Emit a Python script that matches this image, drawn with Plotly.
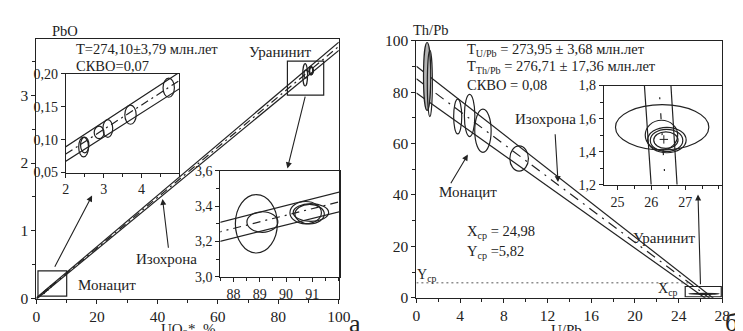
import plotly.graph_objects as go

W, H = 743, 331
FONT = "Liberation Serif, DejaVu Serif, serif"
INK = "#222222"

# ---------------- panel а : PbO vs UO2* ----------------
iso_a_x = [0, 100]
iso_a_mid = [0.004, 3.72]
iso_a_up = [0.014, 3.78]
iso_a_lo = [-0.006, 3.66]

mon_a_x = [2.47, 2.50, 2.88, 3.11, 3.71, 4.72]
mon_a_y = [0.089, 0.092, 0.111, 0.117, 0.138, 0.179]
mon_a_sx = [0.13, 0.11, 0.13, 0.13, 0.15, 0.15]
mon_a_sy = [0.015, 0.012, 0.0095, 0.0135, 0.0145, 0.0145]

ura_a_x = [88.87, 89.10, 90.75, 90.95, 90.90]
ura_a_y = [3.30, 3.31, 3.363, 3.364, 3.355]
ura_a_sx = [0.80, 0.59, 0.60, 0.675, 0.56]
ura_a_sy = [0.165, 0.058, 0.063, 0.050, 0.055]

# ---------------- panel б : Th/Pb vs U/Pb ----------------
iso_b_x = [0, 27.2]
iso_b_mid = [85.2, -1.3]
iso_b_up = [90.1, -0.26]
iso_b_lo = [79.7, -2.44]

mon_b_x = [0.98, 1.23, 3.78, 4.87, 6.09, 9.40]
mon_b_y = [86.1, 83.4, 70.5, 70.9, 65.0, 54.2]
mon_b_sx = [0.33, 0.23, 0.37, 0.48, 0.75, 0.85]
mon_b_sy = [13.2, 12.9, 6.75, 8.2, 8.4, 4.9]
mon_b_fill = [True, False, False, False, False, False]

ura_b_x = [26.32, 26.30, 26.46, 26.45, 26.43]
ura_b_y = [1.548, 1.50, 1.47, 1.468, 1.47]
ura_b_sx = [1.38, 0.48, 0.57, 0.48, 0.36]
ura_b_sy = [0.137, 0.090, 0.077, 0.067, 0.050]

x_cp, y_cp = 24.98, 5.82
centroid_inset = (26.37, 1.474)

ticks_a_inset1 = [2, 3, 4]
ticks_a_inset2 = [88, 89, 90, 91]
ticks_b_inset = [25, 26, 27]


def dom_x(a, b):
    return [a / W, b / W]


def dom_y(top, bottom):
    return [1 - bottom / H, 1 - top / H]


def px(xp, yp):
    return xp / W, 1 - yp / H


fig = go.Figure()


def add_lines(x, mid, up, lo, xa, ya, dash):
    for yy, d in ((up, "solid"), (lo, "solid"), (mid, dash)):
        fig.add_trace(go.Scatter(x=x, y=yy, mode="lines", xaxis=xa, yaxis=ya,
                                 line=dict(color=INK, width=1.2, dash=d),
                                 showlegend=False, hoverinfo="skip"))


add_lines(iso_a_x, iso_a_mid, iso_a_up, iso_a_lo, "x", "y", "8px,4px,2px,4px")
add_lines(iso_a_x, iso_a_mid, iso_a_up, iso_a_lo, "x2", "y2", "8px,4px,2px,4px")
add_lines(iso_a_x, iso_a_mid, iso_a_up, iso_a_lo, "x3", "y3", "8px,5px,2px,5px")
add_lines(iso_b_x, iso_b_mid, iso_b_up, iso_b_lo, "x4", "y4", "10px,6px,2px,6px")
add_lines(iso_b_x, iso_b_mid, iso_b_up, iso_b_lo, "x5", "y5", "6px,14px,2px,14px")

# Y_cp dotted line
fig.add_trace(go.Scatter(x=[0, x_cp], y=[y_cp, y_cp], mode="lines", xaxis="x4", yaxis="y4",
                         line=dict(color="#555", width=1, dash="2px,3px"),
                         showlegend=False, hoverinfo="skip"))
# centroid cross in inset
fig.add_trace(go.Scatter(x=[centroid_inset[0]], y=[centroid_inset[1]], mode="markers",
                         xaxis="x5", yaxis="y5",
                         marker=dict(symbol="cross-thin", size=6, line=dict(color=INK, width=1)),
                         showlegend=False, hoverinfo="skip"))

shapes = []


def add_ellipses(cx, cy, sx, sy, xr, yr, fills=None):
    for i in range(len(cx)):
        filled = fills[i] if fills else False
        shapes.append(dict(type="circle", xref=xr, yref=yr,
                           x0=cx[i] - sx[i], x1=cx[i] + sx[i],
                           y0=cy[i] - sy[i], y1=cy[i] + sy[i],
                           line=dict(color=INK, width=1.2),
                           fillcolor="#b4b4b4" if filled else "rgba(0,0,0,0)"))


add_ellipses(mon_a_x, mon_a_y, mon_a_sx, mon_a_sy, "x", "y")
add_ellipses(mon_a_x, mon_a_y, mon_a_sx, mon_a_sy, "x2", "y2")
add_ellipses(ura_a_x, ura_a_y, ura_a_sx, ura_a_sy, "x", "y")
add_ellipses(ura_a_x, ura_a_y, ura_a_sx, ura_a_sy, "x3", "y3")
add_ellipses(mon_b_x, mon_b_y, mon_b_sx, mon_b_sy, "x4", "y4", mon_b_fill)
add_ellipses(ura_b_x, ura_b_y, ura_b_sx, ura_b_sy, "x4", "y4")
add_ellipses(ura_b_x, ura_b_y, ura_b_sx, ura_b_sy, "x5", "y5")

# zoom boxes
for (x0, x1, y0, y1, xr, yr) in [(0.5, 10, 0.04, 0.41, "x", "y"),
                                  (83, 95, 3.0, 3.5, "x", "y"),
                                  (24.6, 27.9, 0.4, 4.4, "x4", "y4")]:
    shapes.append(dict(type="rect", xref=xr, yref=yr, x0=x0, x1=x1, y0=y0, y1=y1,
                       line=dict(color=INK, width=1.2)))

anns = []


def text(xp, yp, s, size=15, xanchor="center"):
    x, y = px(xp, yp)
    anns.append(dict(x=x, y=y, xref="paper", yref="paper", text=s, showarrow=False,
                     xanchor=xanchor, yanchor="middle",
                     font=dict(family=FONT, size=size, color=INK)))


def arrow(xr, yr, tail, head):
    anns.append(dict(x=head[0], y=head[1], ax=tail[0], ay=tail[1], xref=xr, yref=yr,
                     axref=xr, ayref=yr, text="", showarrow=True, arrowhead=2,
                     arrowsize=1.1, arrowwidth=1.1, arrowcolor=INK, standoff=0))


# panel а texts
text(54, 15, "PbO", 14.5)
text(63, 34, "T=274,10±3,79 млн.лет", 14.5, "left")
text(63, 52, "СКВО=0,07", 14.5, "left")
text(274, 37, "Уранинит", 15)
text(97, 282, "Монацит", 15)
text(158, 255, "Изохрона", 15)
text(180, 330, "UO<sub>2</sub>*, %", 15)
text(351, 323, "а", 26)
arrow("x", "y", (5.8, 0.45), (18.4, 1.52))
arrow("x", "y", (89, 3.0), (83.0, 1.92))
arrow("x", "y", (43.7, 0.73), (41.7, 1.47))

# panel б texts
text(428, 14, "Th/Pb", 14.5)
text(463, 35, "T<sub>U/Pb</sub> = 273,95 ± 3,68 млн.лет", 14.5, "left")
text(463, 53, "T<sub>Th/Pb</sub> = 276,71 ± 17,36 млн.лет", 14.5, "left")
text(463, 72, "СКВО = 0,08", 14.5, "left")
text(545, 108, "Изохрона", 15)
text(466, 185, "Монацит", 15)
text(463, 227, "X<sub>ср</sub> = 24,98", 14.5, "left")
text(463, 248, "Y<sub>ср</sub> =5,82", 14.5, "left")
text(667, 233, "Уранинит", 15)
text(424, 273, "Y<sub>ср</sub>", 14)
text(670, 287, "X<sub>ср</sub>", 14)
text(567, 330, "U/Pb", 15)
text(735, 322, "б", 26)
arrow("x4", "y4", (3.07, 44), (4.71, 55.7))
arrow("x4", "y4", (12.69, 64.2), (12.96, 45.0))
arrow("x4", "y4", (26.0, 4.7), (25.77, 40.2))


def axis(domain, rng, size=15.5, **kw):
    d = dict(domain=domain, range=rng, showline=True, linecolor=INK, linewidth=1.2,
             mirror=True, ticks="outside", ticklen=4, tickcolor=INK, tickwidth=1,
             showgrid=False, zeroline=False,
             tickfont=dict(family=FONT, size=size, color=INK))
    d.update(kw)
    return d


def minor(dt):
    return dict(dtick=dt, ticks="outside", ticklen=3, tickcolor=INK, showgrid=False)


fig.update_layout(
    width=W, height=H, margin=dict(l=0, r=0, t=0, b=0),
    paper_bgcolor="white", plot_bgcolor="rgba(0,0,0,0)",
    font=dict(family=FONT, color=INK),
    separators=", ", showlegend=False,
    xaxis=axis(dom_x(25, 334), [0, 100], dtick=20, minor=minor(10), anchor="y"),
    yaxis=axis(dom_y(23, 297), [0, 3.83], dtick=1, minor=minor(0.5), anchor="x"),
    xaxis2=axis(dom_x(55, 171), [2, 5], 14, tickvals=ticks_a_inset1, minor=minor(0.5), anchor="y2"),
    yaxis2=axis(dom_y(60, 164), [0.05, 0.20], 14, dtick=0.05, tickformat=".2f", anchor="x2"),
    xaxis3=axis(dom_x(213, 335), [87.5, 92.05], 14, tickvals=ticks_a_inset2, minor=minor(0.5), anchor="y3"),
    yaxis3=axis(dom_y(162, 274), [3.0, 3.6], 14, dtick=0.2, tickformat=".1f", minor=minor(0.1), anchor="x3"),
    xaxis4=axis(dom_x(413.3, 726), [0, 28], dtick=4, minor=minor(2), anchor="y4"),
    yaxis4=axis(dom_y(25, 296), [0, 100], dtick=20, minor=minor(10), anchor="x4"),
    xaxis5=axis(dom_x(605, 726), [24.6, 28.1], 14, tickvals=ticks_b_inset, minor=minor(0.5), anchor="y5"),
    yaxis5=axis(dom_y(72.3, 176.7), [1.2, 1.8], 14, dtick=0.2, tickformat=".1f", minor=minor(0.1), anchor="x5"),
    shapes=shapes, annotations=anns,
)

fig.write_html("out.html")
